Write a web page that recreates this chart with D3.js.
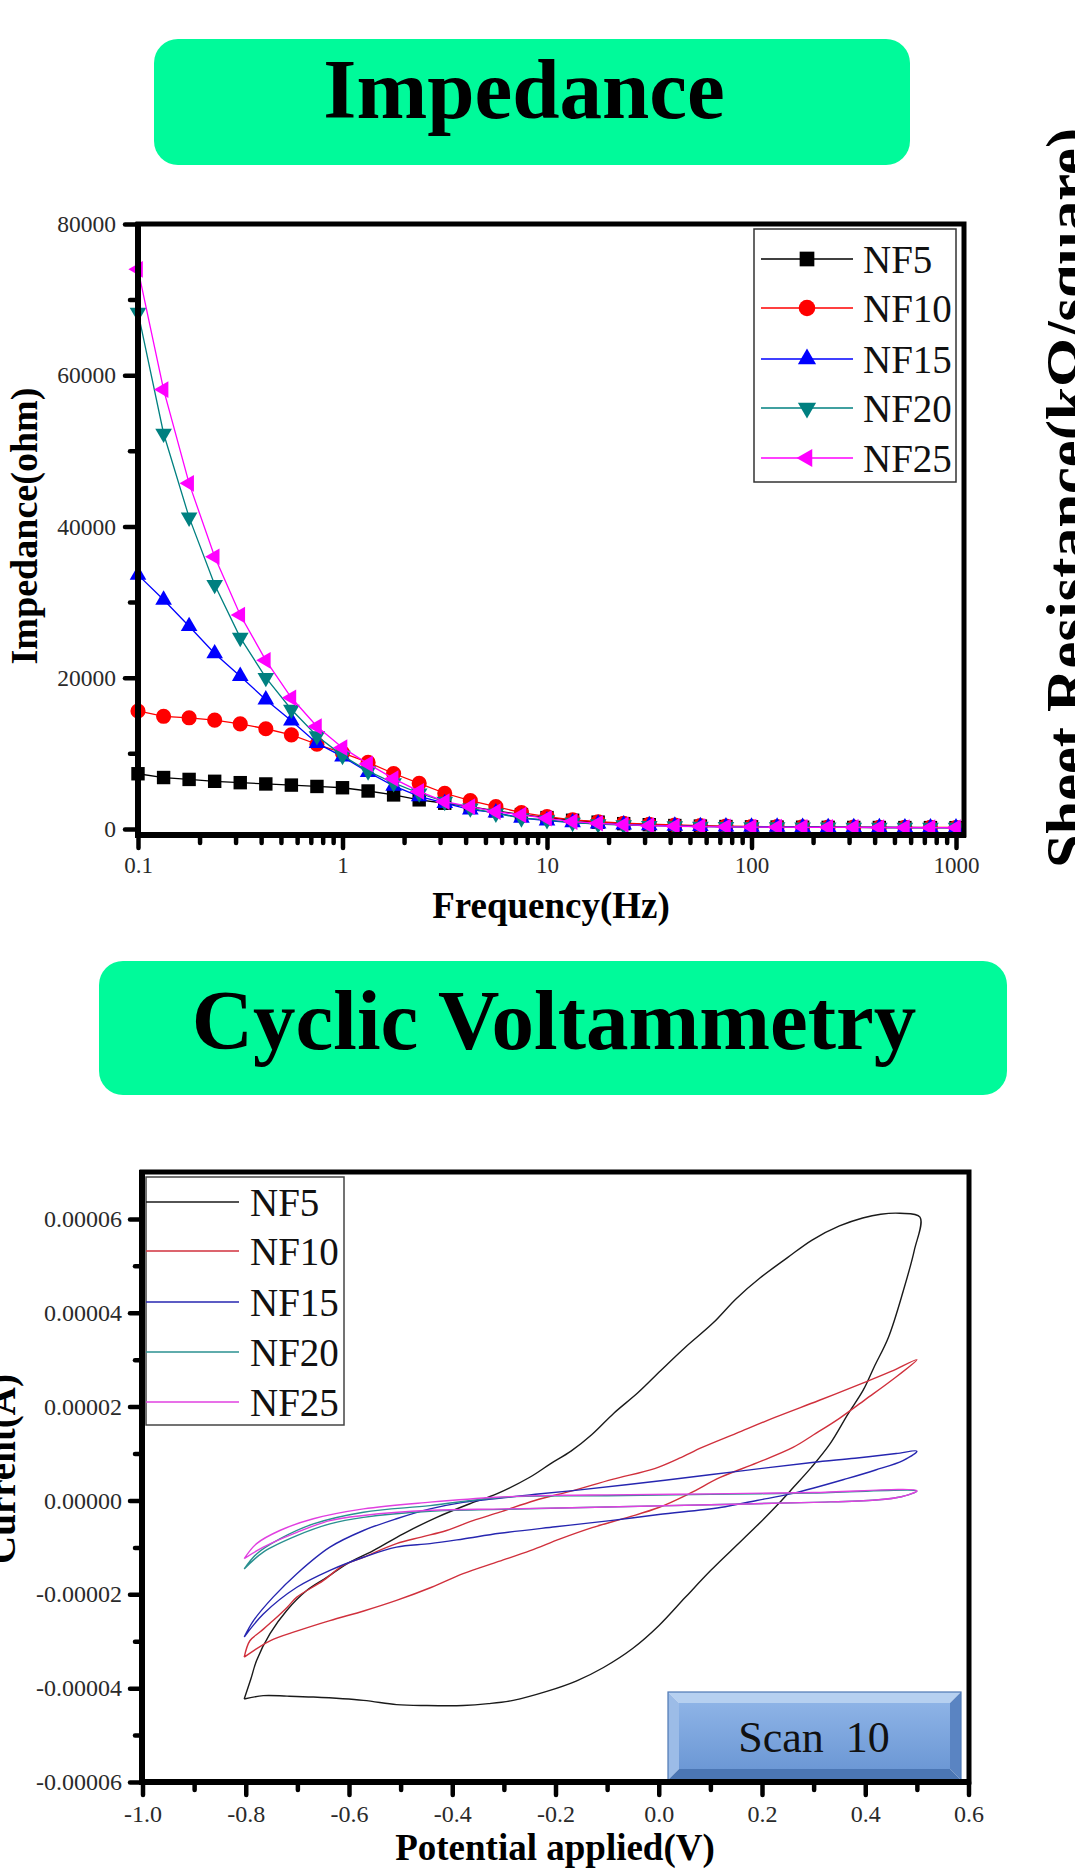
<!DOCTYPE html>
<html><head><meta charset="utf-8">
<script src="https://cdn.jsdelivr.net/npm/d3@7"></script>
<style>body{margin:0;background:#fff}svg{display:block}</style>
</head><body>
<script>
const SERIF = "'Liberation Serif','Times New Roman',Times,'DejaVu Serif',serif";

// ---------------- Impedance data ----------------
const impSeries = ["NF5", "NF10", "NF15", "NF20", "NF25"];
const impColors = ["#000000", "#FF0000", "#0000FF", "#008080", "#FF00FF"];
const impFreq = [0.1, 0.1334, 0.1778, 0.2371, 0.3162, 0.4217, 0.5623, 0.7499, 1, 1.334, 1.778, 2.371,
  3.162, 4.217, 5.623, 7.499, 10, 13.34, 17.78, 23.71, 31.62, 42.17, 56.23, 74.99, 100, 133.4, 177.8,
  237.1, 316.2, 421.7, 562.3, 749.9, 1000];
const impNF5 = [7300, 6800, 6550, 6300, 6120, 5950, 5800, 5620, 5450, 5020, 4500, 3850, 3400, 2950, 2400,
  1900, 1500, 1150, 900, 700, 560, 450, 380, 320, 280, 250, 230, 210, 200, 190, 180, 175, 170];
const impNF10 = [15600, 14900, 14700, 14400, 13900, 13250, 12450, 11200, 10050, 8800, 7330, 6040, 4720,
  3740, 2950, 2160, 1630, 1200, 950, 760, 620, 520, 440, 380, 330, 300, 270, 250, 235, 220, 210, 200, 195];
const impNF15 = [33600, 30300, 26800, 23200, 20200, 17100, 14300, 11350, 9560, 7500, 5700, 4300, 3400,
  2550, 2150, 1450, 1100, 850, 680, 560, 470, 400, 350, 310, 280, 260, 240, 225, 210, 200, 190, 185, 180];
const impNF20 = [68300, 52300, 41200, 32300, 25300, 20000, 15800, 12300, 9700, 7650, 6080, 4720, 3610,
  2740, 2070, 1430, 1190, 850, 650, 520, 430, 370, 320, 290, 260, 240, 225, 210, 200, 190, 180, 175, 170];
const impNF25 = [74000, 58100, 45700, 36000, 28300, 22300, 17350, 13550, 10750, 8600, 6650, 4960, 3610,
  2950, 2290, 1850, 1410, 970, 750, 560, 430, 360, 310, 280, 250, 235, 220, 210, 200, 190, 180, 175, 170];
const impYTicks = [0, 20000, 40000, 60000, 80000];
const impYTickLabels = ["0", "20000", "40000", "60000", "80000"];
const impYMinor = [10000, 30000, 50000, 70000];
const impXTicks = [0.1, 1, 10, 100, 1000];
const impXTickLabels = ["0.1", "1", "10", "100", "1000"];
const impXMinor = [0.2, 0.3, 0.4, 0.5, 0.6, 0.7, 0.8, 0.9, 2, 3, 4, 5, 6, 7, 8, 9, 20, 30, 40, 50, 60, 70, 80, 90,
  200, 300, 400, 500, 600, 700, 800, 900];

// ---------------- Cyclic voltammetry data ([V, A]) ----------------
const cvSeries = ["NF5", "NF10", "NF15", "NF20", "NF25"];
const cvColors = ["#1a1a1a", "#D0303C", "#2626B0", "#2A9090", "#E040E0"];
const cvNF5 = [[-0.803, -4.23e-5], [-0.766, -4.16e-5], [-0.72, -4.17e-5], [-0.669, -4.19e-5], [-0.572, -4.26e-5],
  [-0.508, -4.35e-5], [-0.45, -4.37e-5], [-0.379, -4.37e-5], [-0.33, -4.33e-5], [-0.282, -4.26e-5],
  [-0.217, -4.07e-5], [-0.16, -3.85e-5], [-0.107, -3.56e-5], [-0.05, -3.15e-5], [0.0, -2.67e-5],
  [0.051, -2.07e-5], [0.10, -1.5e-5], [0.14, -1.07e-5], [0.19, -5.4e-6], [0.232, -7e-7], [0.261, 2.8e-6],
  [0.296, 7.1e-6], [0.332, 1.21e-5], [0.367, 1.85e-5], [0.396, 2.35e-5], [0.417, 2.84e-5], [0.445, 3.48e-5],
  [0.474, 4.48e-5], [0.495, 5.33e-5], [0.506, 6.04e-5],
  [0.467, 6.12e-5], [0.43, 6.1e-5], [0.395, 6.02e-5], [0.35, 5.85e-5], [0.297, 5.55e-5], [0.25, 5.18e-5],
  [0.196, 4.74e-5], [0.15, 4.3e-5], [0.105, 3.78e-5], [0.05, 3.25e-5], [0.004, 2.77e-5], [-0.04, 2.3e-5],
  [-0.087, 1.86e-5], [-0.13, 1.4e-5], [-0.17, 1.05e-5], [-0.21, 7.8e-6], [-0.249, 5.0e-6], [-0.314, 1.4e-6],
  [-0.366, -7e-7], [-0.43, -3.6e-6], [-0.495, -7.1e-6], [-0.553, -1.07e-5], [-0.604, -1.35e-5],
  [-0.643, -1.64e-5], [-0.682, -1.92e-5], [-0.721, -2.35e-5], [-0.753, -2.84e-5], [-0.779, -3.41e-5],
  [-0.79, -3.8e-5], [-0.803, -4.23e-5]];
const cvNF10 = [[-0.803, -3.34e-5], [-0.753, -2.99e-5], [-0.70, -2.78e-5], [-0.637, -2.56e-5], [-0.57, -2.35e-5],
  [-0.508, -2.13e-5], [-0.44, -1.85e-5], [-0.379, -1.56e-5], [-0.31, -1.3e-5], [-0.249, -1.07e-5],
  [-0.191, -8.2e-6], [-0.129, -5.8e-6], [-0.06, -3.6e-6], [0.0, -1.5e-6], [0.06, 1.5e-6], [0.119, 4.9e-6],
  [0.19, 8.0e-6], [0.26, 1.13e-5], [0.30, 1.4e-5], [0.35, 1.75e-5], [0.40, 2.15e-5], [0.45, 2.55e-5],
  [0.50, 3.0e-5],
  [0.45, 2.75e-5], [0.395, 2.5e-5], [0.31, 2.13e-5], [0.225, 1.77e-5], [0.15, 1.43e-5], [0.084, 1.13e-5],
  [0.04, 9.0e-6], [-0.008, 6.8e-6], [-0.09, 4.5e-6], [-0.166, 2.1e-6], [-0.24, 0], [-0.308, -2.5e-6],
  [-0.36, -4.3e-6], [-0.411, -6.4e-6], [-0.46, -7.8e-6], [-0.508, -9.2e-6], [-0.572, -1.21e-5],
  [-0.612, -1.39e-5], [-0.65, -1.71e-5], [-0.701, -2.06e-5], [-0.72, -2.28e-5], [-0.747, -2.56e-5],
  [-0.772, -2.8e-5], [-0.792, -2.99e-5], [-0.803, -3.34e-5]];
const cvNF15 = [[-0.803, -2.91e-5], [-0.766, -2.42e-5], [-0.701, -1.85e-5], [-0.637, -1.49e-5], [-0.572, -1.21e-5],
  [-0.508, -9.95e-6], [-0.443, -9.2e-6], [-0.379, -8.2e-6], [-0.308, -7.0e-6], [-0.2, -5.6e-6],
  [-0.094, -4.3e-6], [0.0, -3.0e-6], [0.119, -1.5e-6], [0.19, 0], [0.26, 1.5e-6], [0.366, 4.7e-6],
  [0.42, 6.5e-6], [0.473, 8.5e-6], [0.50, 1.05e-5],
  [0.46, 1.0e-5], [0.38, 9.0e-6], [0.297, 8.1e-6], [0.153, 6.2e-6], [0.012, 4.3e-6], [-0.166, 2.1e-6],
  [-0.25, 1.2e-6], [-0.314, 4e-7], [-0.379, -4e-7], [-0.443, -1.8e-6], [-0.508, -3.9e-6], [-0.572, -6.4e-6],
  [-0.637, -9.95e-6], [-0.701, -1.56e-5], [-0.747, -2.06e-5], [-0.785, -2.56e-5], [-0.803, -2.91e-5]];
const cvNF20 = [[-0.803, -1.46e-5], [-0.766, -1.1e-5], [-0.701, -7.5e-6], [-0.637, -5.0e-6], [-0.572, -3.6e-6],
  [-0.443, -2.3e-6], [-0.3, -1.9e-6], [-0.1, -1.4e-6], [0.1, -9e-7], [0.3, -4e-7], [0.42, 1e-7],
  [0.47, 8e-7], [0.50, 2.0e-6],
  [0.3, 1.6e-6], [0.1, 1.3e-6], [-0.1, 1.0e-6], [-0.3, 7e-7], [-0.443, -1.1e-6], [-0.572, -2.5e-6],
  [-0.669, -5.0e-6], [-0.734, -8.2e-6], [-0.779, -1.14e-5], [-0.803, -1.46e-5]];
const cvNF25 = [[-0.803, -1.24e-5], [-0.766, -9.95e-6], [-0.701, -6.8e-6], [-0.637, -4.3e-6], [-0.572, -3.2e-6],
  [-0.443, -2.1e-6], [-0.3, -1.8e-6], [-0.1, -1.4e-6], [0.1, -9e-7], [0.3, -4e-7], [0.42, 1e-7],
  [0.47, 8e-7], [0.50, 2.1e-6],
  [0.3, 1.7e-6], [0.1, 1.4e-6], [-0.1, 1.2e-6], [-0.191, 1.1e-6], [-0.314, 7e-7], [-0.443, -3.6e-7],
  [-0.572, -1.8e-6], [-0.669, -3.9e-6], [-0.734, -6.4e-6], [-0.779, -9.2e-6], [-0.803, -1.24e-5]];
const cvYTicks = [-0.00006, -0.00004, -0.00002, 0, 0.00002, 0.00004, 0.00006];
const cvYTickLabels = ["-0.00006", "-0.00004", "-0.00002", "0.00000", "0.00002", "0.00004", "0.00006"];
const cvYMinor = [-0.00005, -0.00003, -0.00001, 0.00001, 0.00003, 0.00005];
const cvXTicks = [-1.0, -0.8, -0.6, -0.4, -0.2, 0.0, 0.2, 0.4, 0.6];
const cvXTickLabels = ["-1.0", "-0.8", "-0.6", "-0.4", "-0.2", "0.0", "0.2", "0.4", "0.6"];
const cvXMinor = [-0.9, -0.7, -0.5, -0.3, -0.1, 0.1, 0.3, 0.5];

// ---------------- drawing ----------------
const svg = d3.select("body").append("svg").attr("width", 1075).attr("height", 1872);
svg.append("rect").attr("width", 1075).attr("height", 1872).attr("fill", "#fff");

function titleBox(x, y, w, h, text, tx, ty) {
  svg.append("rect").attr("x", x).attr("y", y).attr("width", w).attr("height", h)
    .attr("rx", 24).attr("ry", 24).attr("fill", "#00FA9A");
  svg.append("text").attr("x", tx).attr("y", ty).attr("text-anchor", "middle")
    .attr("font-family", SERIF).attr("font-weight", "bold").attr("font-size", 85)
    .attr("fill", "#000").text(text);
}
titleBox(154, 39, 756, 126, "Impedance", 524, 118);
titleBox(99, 961, 908, 134, "Cyclic Voltammetry", 554, 1049);

// cut-off right title (partly outside the picture, as in the source figure)
svg.append("text").attr("transform", "translate(1087,498) rotate(-90)")
  .attr("text-anchor", "middle").attr("font-family", SERIF).attr("font-weight", "bold")
  .attr("font-size", 60).attr("textLength", 740).attr("lengthAdjust", "spacingAndGlyphs")
  .text("Sheet Resistance(k\u03A9/square)");

function styleTicks(g, fs) {
  g.select(".domain").remove();
  g.selectAll(".tick line").attr("stroke", "#000").attr("stroke-width", 4.5).attr("stroke-linecap", "round");
  g.selectAll(".tick text").attr("font-family", SERIF).attr("font-size", fs).attr("fill", "#2a2a2a");
}

// ===== Impedance chart =====
const IL = 138, IR = 964, IT = 224, IB = 835;
const ix = d3.scaleLog().domain([0.1, 1094]).range([IL, IR]);
const iy = d3.scaleLinear().domain([-800, 80000]).range([IB, IT]);
const imp = svg.append("g");
const impVals = [impNF5, impNF10, impNF15, impNF20, impNF25];
const impSymbols = [
  { t: d3.symbolSquare, s: 180, r: 0 },
  { t: d3.symbolCircle, s: 180, r: 0 },
  { t: d3.symbolTriangle, s: 120, r: 0 },
  { t: d3.symbolTriangle, s: 120, r: 180 },
  { t: d3.symbolTriangle, s: 120, r: -90 }];
const impLine = d3.line().x(d => ix(d[0])).y(d => iy(d[1]));
impVals.forEach((vals, i) => {
  const pts = impFreq.map((f, k) => [f, vals[k]]);
  imp.append("path").attr("d", impLine(pts)).attr("fill", "none")
    .attr("stroke", impColors[i]).attr("stroke-width", 1.3);
  imp.selectAll(null).data(pts).enter().append("path")
    .attr("d", d3.symbol().type(impSymbols[i].t).size(impSymbols[i].s))
    .attr("transform", d => `translate(${ix(d[0])},${iy(d[1])}) rotate(${impSymbols[i].r})`)
    .attr("fill", impColors[i]);
});
imp.append("g").attr("transform", `translate(${IL},0)`)
  .call(d3.axisLeft(iy).tickValues(impYTicks).tickFormat((d, i) => impYTickLabels[i]).tickSize(13).tickPadding(9))
  .call(g => styleTicks(g, 23.5));
imp.append("g").attr("transform", `translate(${IL},0)`)
  .call(d3.axisLeft(iy).tickValues(impYMinor).tickFormat("").tickSize(8))
  .call(g => styleTicks(g, 23.5));
imp.append("g").attr("transform", `translate(0,${IB})`)
  .call(d3.axisBottom(ix).tickValues(impXTicks).tickFormat((d, i) => impXTickLabels[i]).tickSize(13).tickPadding(9))
  .call(g => styleTicks(g, 23));
imp.append("g").attr("transform", `translate(0,${IB})`)
  .call(d3.axisBottom(ix).tickValues(impXMinor).tickFormat("").tickSize(8))
  .call(g => styleTicks(g, 23));
imp.append("rect").attr("x", IL).attr("y", IT).attr("width", IR - IL).attr("height", IB - IT)
  .attr("fill", "none").attr("stroke", "#000").attr("stroke-width", 5);
imp.append("line").attr("x1", IL).attr("x2", IL).attr("y1", IT - 2).attr("y2", IB + 3).attr("stroke", "#000").attr("stroke-width", 6);
imp.append("line").attr("x1", IL - 3).attr("x2", IR + 2).attr("y1", IB).attr("y2", IB).attr("stroke", "#000").attr("stroke-width", 6);
imp.append("text").attr("x", 551).attr("y", 918).attr("text-anchor", "middle")
  .attr("font-family", SERIF).attr("font-weight", "bold").attr("font-size", 37).text("Frequency(Hz)");
imp.append("text").attr("transform", "translate(37,526) rotate(-90)").attr("text-anchor", "middle")
  .attr("font-family", SERIF).attr("font-weight", "bold").attr("font-size", 38)
  .attr("textLength", 277).attr("lengthAdjust", "spacingAndGlyphs").text("Impedance(ohm)");
const iLeg = imp.append("g");
iLeg.append("rect").attr("x", 754).attr("y", 229).attr("width", 202).attr("height", 253)
  .attr("fill", "#fff").attr("stroke", "#333").attr("stroke-width", 1.5);
const iLegY = [259, 308, 359, 408, 458];
impSeries.forEach((name, i) => {
  const y = iLegY[i];
  iLeg.append("line").attr("x1", 761).attr("x2", 853).attr("y1", y).attr("y2", y)
    .attr("stroke", impColors[i]).attr("stroke-width", 1.5);
  iLeg.append("path").attr("d", d3.symbol().type(impSymbols[i].t).size(impSymbols[i].s * 1.2))
    .attr("transform", `translate(807,${y}) rotate(${impSymbols[i].r})`).attr("fill", impColors[i]);
  iLeg.append("text").attr("x", 863).attr("y", y + 14).attr("font-family", SERIF)
    .attr("font-size", 39).attr("fill", "#111").text(name);
});

// ===== CV chart =====
const CL = 142, CR = 969, CT = 1172, CB = 1782;
const cx = d3.scaleLinear().domain([-1.0, 0.6]).range([142.5, 968.5]);
const cy = d3.scaleLinear().domain([-0.00006, 0.00007]).range([CB, CT]);
const cv = svg.append("g");
const cvVals = [cvNF5, cvNF10, cvNF15, cvNF20, cvNF25];
const cvLine = d3.line().x(d => cx(d[0])).y(d => cy(d[1])).curve(d3.curveCatmullRom.alpha(0.5));
cvVals.forEach((vals, i) => {
  cv.append("path").attr("d", cvLine(vals)).attr("fill", "none")
    .attr("stroke", cvColors[i]).attr("stroke-width", 1.4).attr("stroke-linejoin", "round");
});
cv.append("g").attr("transform", `translate(${CL},0)`)
  .call(d3.axisLeft(cy).tickValues(cvYTicks).tickFormat((d, i) => cvYTickLabels[i]).tickSize(12).tickPadding(8))
  .call(g => styleTicks(g, 24));
cv.append("g").attr("transform", `translate(${CL},0)`)
  .call(d3.axisLeft(cy).tickValues(cvYMinor).tickFormat("").tickSize(7))
  .call(g => styleTicks(g, 24));
cv.append("g").attr("transform", `translate(0,${CB})`)
  .call(d3.axisBottom(cx).tickValues(cvXTicks).tickFormat((d, i) => cvXTickLabels[i]).tickSize(13).tickPadding(10))
  .call(g => styleTicks(g, 24));
cv.append("g").attr("transform", `translate(0,${CB})`)
  .call(d3.axisBottom(cx).tickValues(cvXMinor).tickFormat("").tickSize(8))
  .call(g => styleTicks(g, 24));

(function () {
  const x0 = 668, y0 = 1692, x1 = 961, y1 = 1780, b = 11;
  const defs = svg.append("defs");
  const gr = defs.append("linearGradient").attr("id", "face").attr("x1", 0).attr("y1", 0).attr("x2", 0).attr("y2", 1);
  gr.append("stop").attr("offset", 0).attr("stop-color", "#8DB3E6");
  gr.append("stop").attr("offset", 1).attr("stop-color", "#6C98D5");
  const p = pts => pts.map(q => q.join(",")).join(" ");
  cv.append("polygon").attr("points", p([[x0, y0], [x1, y0], [x1 - b, y0 + b], [x0 + b, y0 + b]])).attr("fill", "#B6D0F0");
  cv.append("polygon").attr("points", p([[x0, y0], [x0 + b, y0 + b], [x0 + b, y1 - b], [x0, y1]])).attr("fill", "#9CBCE7");
  cv.append("polygon").attr("points", p([[x1, y0], [x1, y1], [x1 - b, y1 - b], [x1 - b, y0 + b]])).attr("fill", "#5A84C2");
  cv.append("polygon").attr("points", p([[x0, y1], [x0 + b, y1 - b], [x1 - b, y1 - b], [x1, y1]])).attr("fill", "#4B76B4");
  cv.append("rect").attr("x", x0 + b).attr("y", y0 + b).attr("width", x1 - x0 - 2 * b).attr("height", y1 - y0 - 2 * b).attr("fill", "url(#face)");
  cv.append("rect").attr("x", x0).attr("y", y0).attr("width", x1 - x0).attr("height", y1 - y0)
    .attr("fill", "none").attr("stroke", "#4E78B4").attr("stroke-width", 1.2);
  cv.append("text").attr("x", 814).attr("y", 1752).attr("text-anchor", "middle")
    .attr("font-family", SERIF).attr("font-size", 44).attr("fill", "#111").text("Scan\u00A0\u00A010");
})();

cv.append("rect").attr("x", CL).attr("y", CT).attr("width", CR - CL).attr("height", CB - CT)
  .attr("fill", "none").attr("stroke", "#000").attr("stroke-width", 5);
cv.append("line").attr("x1", CL).attr("x2", CL).attr("y1", CT - 2).attr("y2", CB + 3).attr("stroke", "#000").attr("stroke-width", 6);
cv.append("line").attr("x1", CL - 3).attr("x2", CR + 2).attr("y1", CB).attr("y2", CB).attr("stroke", "#000").attr("stroke-width", 6);

const cLeg = cv.append("g");
cLeg.append("rect").attr("x", 146).attr("y", 1177).attr("width", 198).attr("height", 248)
  .attr("fill", "#fff").attr("stroke", "#444").attr("stroke-width", 1.5);
const cLegY = [1202, 1251, 1302, 1352, 1402];
cvSeries.forEach((name, i) => {
  const y = cLegY[i];
  cLeg.append("line").attr("x1", 146).attr("x2", 239).attr("y1", y).attr("y2", y)
    .attr("stroke", cvColors[i]).attr("stroke-width", 1.5);
  cLeg.append("text").attr("x", 250).attr("y", y + 14).attr("font-family", SERIF)
    .attr("font-size", 39).attr("fill", "#111").text(name);
});
cv.append("text").attr("x", 555).attr("y", 1860).attr("text-anchor", "middle")
  .attr("font-family", SERIF).attr("font-weight", "bold").attr("font-size", 37).text("Potential applied(V)");
// y title partly outside the picture, as in the source figure
cv.append("text").attr("transform", "translate(15,1469) rotate(-90)").attr("text-anchor", "middle")
  .attr("font-family", SERIF).attr("font-weight", "bold").attr("font-size", 39).text("Current(A)");
</script>
</body></html>
